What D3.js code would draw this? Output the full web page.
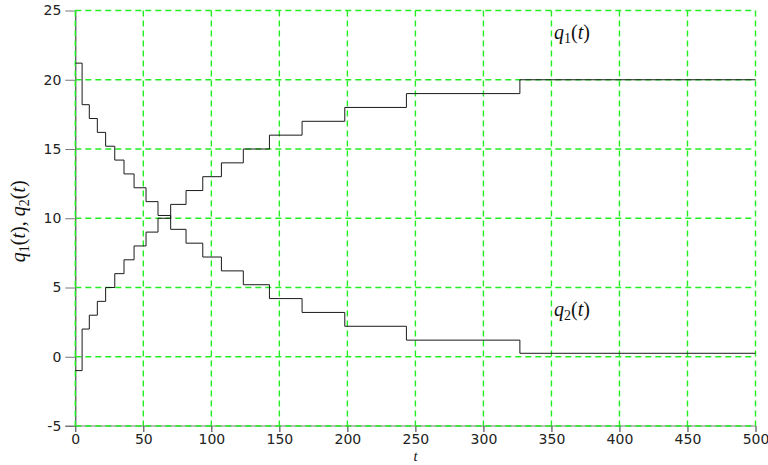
<!DOCTYPE html>
<html>
<head>
<meta charset="utf-8">
<script src="https://cdn.jsdelivr.net/npm/d3@7"></script>
<style>
  body { margin: 0; background: #fff; }
  svg { display: block; }
  .tick text { font-family: "DejaVu Sans", sans-serif; font-size: 14px; fill: #222; }
  .math { font-family: "Liberation Serif", serif; fill: #111; }
</style>
</head>
<body>
<div id="chart"></div>
<script>
// switching times of the step signal and the level held after each switch
const switchTimes = [0, 5, 10.3, 16.2, 22.3, 29, 35.8, 43.2, 52, 60.8, 70.1, 81.4,
  93.7, 107.4, 123.5, 142.7, 166.7, 198.1, 243.4, 326.8];
const q1Levels = [-1, 2, 3, 4, 5, 6, 7, 8, 9, 10, 11, 12, 13, 14, 15, 16, 17, 18, 19, 20];
const q2Levels = [21.2, 18.2, 17.2, 16.2, 15.2, 14.2, 13.2, 12.2, 11.2, 10.2, 9.2, 8.2,
  7.2, 6.2, 5.2, 4.2, 3.2, 2.2, 1.2, 0.25];
const tEnd = 500;
const xTicks = [0, 50, 100, 150, 200, 250, 300, 350, 400, 450, 500];
const yTicks = [-5, 0, 5, 10, 15, 20, 25];

const width = 768, height = 465;
const margin = { top: 10.5, right: 12.5, bottom: 39, left: 75.3 };

const svg = d3.select('#chart').append('svg')
  .attr('width', width)
  .attr('height', height);

const x = d3.scaleLinear().domain([0, tEnd]).range([margin.left, width - margin.right]);
const y = d3.scaleLinear().domain([-5, 25]).range([height - margin.bottom, margin.top]);

// axes first, grid is drawn over them
const xAxis = svg.append('g')
  .attr('transform', `translate(0,${y(-5)})`)
  .call(d3.axisBottom(x).tickValues(xTicks).tickFormat(d => String(d))
    .tickSize(6).tickPadding(2).tickSizeOuter(0));
xAxis.select('.domain').attr('stroke', '#777').attr('d', `M${x(0) - 10},0H${x(tEnd)}`);
xAxis.selectAll('.tick line').attr('stroke', '#333');

const yAxis = svg.append('g')
  .attr('transform', `translate(${x(0)},0)`)
  .call(d3.axisLeft(y).tickValues(yTicks).tickFormat(d => String(d))
    .tickSize(10).tickPadding(4).tickSizeOuter(0));
yAxis.select('.domain').attr('stroke', '#222');
yAxis.selectAll('.tick line').attr('stroke', '#777');

// dashed green grid
const grid = svg.append('g')
  .attr('stroke', '#22ee22')
  .attr('stroke-width', 1.4)
  .attr('stroke-dasharray', '6,4');
grid.selectAll('line.v').data(xTicks).join('line')
  .attr('class', 'v')
  .attr('x1', d => x(d)).attr('x2', d => x(d))
  .attr('y1', y(25)).attr('y2', y(-5));
grid.selectAll('line.h').data(yTicks).join('line')
  .attr('class', 'h')
  .attr('x1', x(0)).attr('x2', x(tEnd))
  .attr('y1', d => y(d)).attr('y2', d => y(d));

// step curves
const toPoints = levels => {
  const pts = switchTimes.map((t, i) => [t, levels[i]]);
  pts.push([tEnd, levels[levels.length - 1]]);
  return pts;
};
const line = d3.line()
  .x(d => x(d[0]))
  .y(d => y(d[1]))
  .curve(d3.curveStepAfter);

svg.append('g').selectAll('path')
  .data([q1Levels, q2Levels])
  .join('path')
  .attr('d', d => line(toPoints(d)))
  .attr('fill', 'none')
  .attr('stroke', '#1a1a1a')
  .attr('stroke-width', 1);

// math style label: q_n(t)
function qLabel(sel, n) {
  sel.append('tspan').attr('font-style', 'italic').text('q');
  sel.append('tspan').attr('font-size', '0.7em').attr('dy', 4).text(n);
  sel.append('tspan').attr('dy', -4).text('(');
  sel.append('tspan').attr('font-style', 'italic').text('t');
  sel.append('tspan').text(')');
}

const lab1 = svg.append('text').attr('class', 'math')
  .attr('x', 554).attr('y', 39).attr('font-size', 20);
qLabel(lab1, 1);

const lab2 = svg.append('text').attr('class', 'math')
  .attr('x', 554).attr('y', 316).attr('font-size', 20);
qLabel(lab2, 2);

// x axis title
svg.append('text').attr('class', 'math')
  .attr('x', x(250)).attr('y', 461)
  .attr('text-anchor', 'middle')
  .attr('font-size', 14.5)
  .attr('font-style', 'italic')
  .text('t');

// y axis title
const ylab = svg.append('text').attr('class', 'math')
  .attr('transform', `translate(25,${y(10) + 3}) rotate(-90)`)
  .attr('text-anchor', 'middle')
  .attr('font-size', 20);
qLabel(ylab, 1);
ylab.append('tspan').text(', ');
qLabel(ylab, 2);
</script>
</body>
</html>
